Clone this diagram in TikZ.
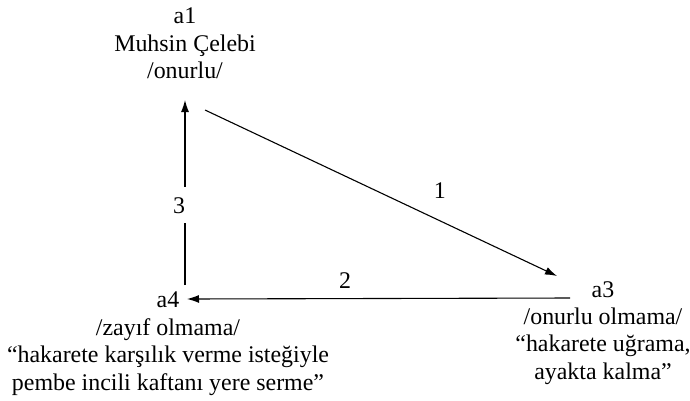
\documentclass[tikz,border=0pt]{standalone}
\usepackage{fontspec}
\setmainfont{Liberation Serif}
\usetikzlibrary{arrows.meta}
\begin{document}
\begin{tikzpicture}[x=1bp,y=-1bp,
  txt/.style={align=center,font=\fontsize{24}{27.5}\selectfont,inner sep=0pt},
  lbl/.style={font=\fontsize{24}{26}\selectfont,inner sep=1pt},
  conn/.style={line width=1.1bp,-{Latex[length=12bp,width=8bp]}}]
\useasboundingbox (0,0) rectangle (690,400);
\node[txt,anchor=north] (a1) at (185,8) {a1\\Muhsin Çelebi\\/onurlu/};
\node[txt,anchor=north] (a4) at (168,292) {a4\\/zayıf olmama/\\“hakarete karşılık verme isteğiyle\\pembe incili kaftanı yere serme”};
\node[txt,anchor=north] (a3) at (603,281) {a3\\/onurlu olmama/\\“hakarete uğrama,\\ayakta kalma”};
\coordinate (p1up) at (185,100);
\coordinate (p1diag) at (205,110);
\coordinate (p3tip) at (557,276);
\coordinate (p3h) at (570,298);
\coordinate (p4tip) at (187,299);
\coordinate (p4v) at (185,285);
\draw[conn] (p1diag) -- (p3tip) node[lbl,pos=0.667,yshift=30bp] (l1) {1};
\draw[conn] (p3h) -- (p4tip) node[lbl,pos=0.587,yshift=18bp] (l2) {2};
\draw[conn] (p4v) -- (p1up) node[lbl,pos=0.43,fill=white,inner xsep=6bp,inner ysep=10bp,xshift=-6bp] (l3) {3};
\end{tikzpicture}
\end{document}
